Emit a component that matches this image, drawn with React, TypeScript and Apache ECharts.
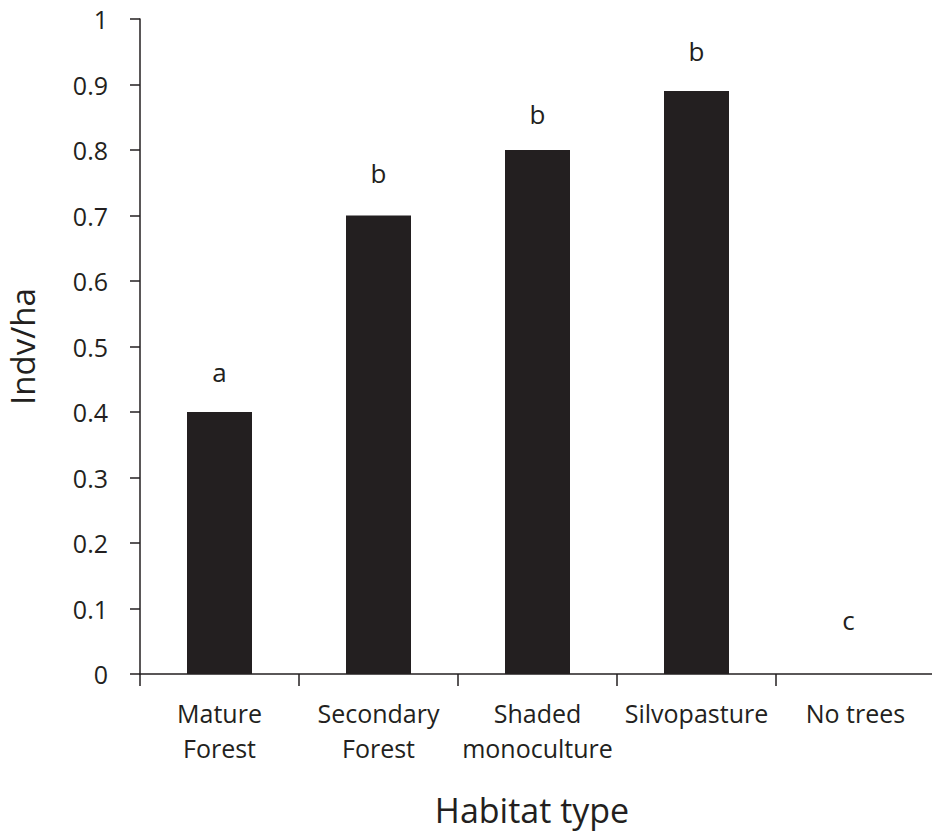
import React, { useEffect, useRef } from "react";
import * as echarts from "echarts";

const categories = [
  "Mature\nForest",
  "Secondary\nForest",
  "Shaded\nmonoculture",
  "Silvopasture",
  "No trees",
];
const values = [0.4, 0.7, 0.8, 0.89, 0];
const letters = ["a", "b", "b", "b", "c"];
const yMin = 0;
const yMax = 1;
const yInterval = 0.1;

// layout only: gap between bar top and its significance letter
const LETTER_GAP = [27, 30, 23, 27, 41];

const INK = "#231f20";
const FONT = "Open Sans";

export default function App() {
  const ref = useRef<HTMLDivElement>(null);
  useEffect(() => {
    if (!ref.current) return;
    const chart = echarts.init(ref.current, undefined, { renderer: "svg" });
    chart.setOption({
      animation: false,
      backgroundColor: "#ffffff",
      textStyle: { fontFamily: FONT, color: INK },
      grid: {
        left: 140,
        top: 19,
        width: 795,
        bottom: 160,
        containLabel: false,
        outerBoundsMode: "none",
      },
      xAxis: {
        type: "category",
        data: categories,
        name: "Habitat type",
        nameLocation: "middle",
        nameGap: 119,
        nameTextStyle: {
          fontFamily: FONT,
          fontSize: 34,
          color: INK,
          padding: [0, 11, 0, 0],
        },
        axisLine: { show: true, lineStyle: { color: INK, width: 1.5 } },
        axisTick: { show: true, length: 12, lineStyle: { color: INK, width: 1.5 } },
        axisLabel: {
          interval: 0,
          margin: 21,
          fontFamily: FONT,
          fontSize: 25,
          lineHeight: 35,
          color: INK,
        },
        splitLine: { show: false },
      },
      yAxis: {
        type: "value",
        min: yMin,
        max: yMax,
        interval: yInterval,
        name: "Indv/ha",
        nameLocation: "middle",
        nameGap: 101,
        nameTextStyle: { fontFamily: FONT, fontSize: 33, color: INK },
        axisLine: { show: true, lineStyle: { color: INK, width: 1.5 } },
        axisTick: { show: true, length: 10, lineStyle: { color: INK, width: 1.5 } },
        axisLabel: {
          margin: 32,
          fontFamily: FONT,
          fontSize: 25,
          color: INK,
        },
        splitLine: { show: false },
      },
      series: [
        {
          type: "bar",
          barWidth: 65,
          itemStyle: { color: INK },
          data: values.map((v, i) => ({
            value: v,
            label: {
              distance: LETTER_GAP[i],
              offset: v === 0 ? [-7, 0] : [0, 0],
            },
          })),
          label: {
            show: true,
            position: "top",
            fontFamily: FONT,
            fontSize: 26,
            color: INK,
            formatter: (p: any) => letters[p.dataIndex],
          },
        },
      ],
    });
    return () => chart.dispose();
  }, []);
  return (
    <div
      ref={ref}
      style={{ position: "fixed", left: 0, top: 0, width: 932, height: 834 }}
    />
  );
}
